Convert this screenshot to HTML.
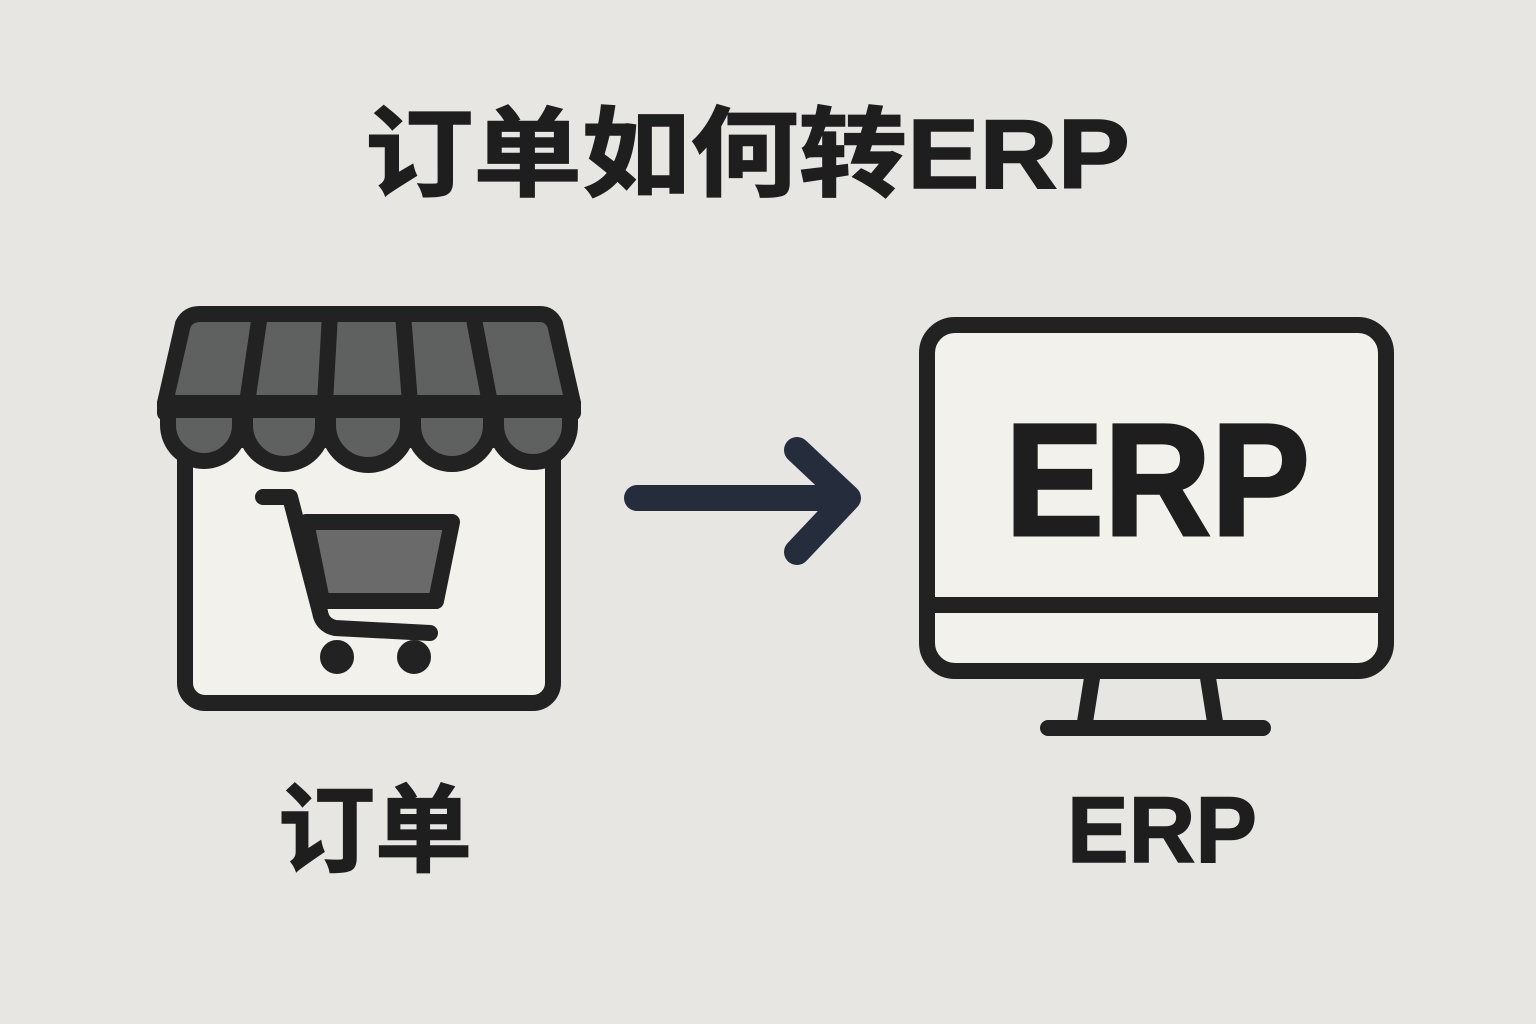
<!DOCTYPE html>
<html><head><meta charset="utf-8"><style>
html,body{margin:0;padding:0;background:#e7e6e2;}
svg{display:block;}
</style></head><body>
<svg width="1536" height="1024" viewBox="0 0 1536 1024" xmlns="http://www.w3.org/2000/svg">
<rect width="1536" height="1024" fill="#e7e6e2"/>
<text x="365" y="188" font-family="Liberation Sans, Noto Sans CJK SC, sans-serif" font-weight="bold" font-size="98" fill="#1e1e1e" stroke="#1e1e1e" stroke-width="1.5" textLength="765" lengthAdjust="spacingAndGlyphs">订单如何转ERP</text>

<g stroke="#222" stroke-width="16" stroke-linejoin="round" stroke-linecap="round">
  <rect x="185" y="440" width="368" height="263" rx="20" fill="#f3f1ec"/>
  <path d="M200,314 L540,314 Q550,314 555,324 L573,403 L165,403 L183,324 Q188,314 200,314 Z" fill="#5f6060"/>
  <path d="M260,314 L247,403 M330,314 L325,403 M403,314 L410,403 M473,314 L490,403" fill="none"/>
  <rect x="165" y="403" width="408" height="10" fill="#222"/>
  <path d="M168,410 L168,425 A36,36 0 0 0 240,425 L240,410 Z" fill="#5f6060"/>
  <path d="M245,410 L245,425 A39,39 0 0 0 323,425 L323,410 Z" fill="#5f6060"/>
  <path d="M328,410 L328,425 A40,40 0 0 0 408,425 L408,410 Z" fill="#5f6060"/>
  <path d="M413,410 L413,425 A39,39 0 0 0 491,425 L491,410 Z" fill="#5f6060"/>
  <path d="M496,410 L496,425 A37,37 0 0 0 570,425 L570,410 Z" fill="#5f6060"/>
  <path d="M263,497 L290,497 L320,612 Q322,625 335,628 L430,633" fill="none"/>
  <path d="M306,522 L452,522 L436,601 L322,601 Z" fill="#6a6a6a"/>
  <circle cx="337" cy="657" r="9" fill="#222"/>
  <circle cx="414" cy="657" r="9" fill="#222"/>
  <rect x="927" y="325" width="459" height="346" rx="28" fill="#f3f1ec"/>
  <line x1="927" y1="605" x2="1386" y2="605"/>
  <path d="M1092,678 L1085,722 M1208,678 L1215,722" fill="none"/>
  <line x1="1048" y1="728" x2="1263" y2="728"/>
</g>
<g stroke="#252d3d" stroke-width="26" stroke-linecap="round" stroke-linejoin="round" fill="none">
  <line x1="637" y1="498" x2="845" y2="498"/>
  <path d="M797,450 L848,498 L797,552"/>
</g>
<text x="1005" y="535" font-family="Liberation Sans, sans-serif" font-weight="bold" font-size="160" fill="#1e1e1e" stroke="#1e1e1e" stroke-width="3" textLength="305" lengthAdjust="spacingAndGlyphs">ERP</text>
<text x="278" y="864" font-family="Liberation Sans, Noto Sans CJK SC, sans-serif" font-weight="bold" font-size="96" fill="#1e1e1e" stroke="#1e1e1e" stroke-width="1.5" textLength="194" lengthAdjust="spacingAndGlyphs">订单</text>
<text x="1067" y="862" font-family="Liberation Sans, sans-serif" font-weight="bold" font-size="94" fill="#1e1e1e" stroke="#1e1e1e" stroke-width="1.5" textLength="190" lengthAdjust="spacingAndGlyphs">ERP</text>
</svg>
</body></html>
